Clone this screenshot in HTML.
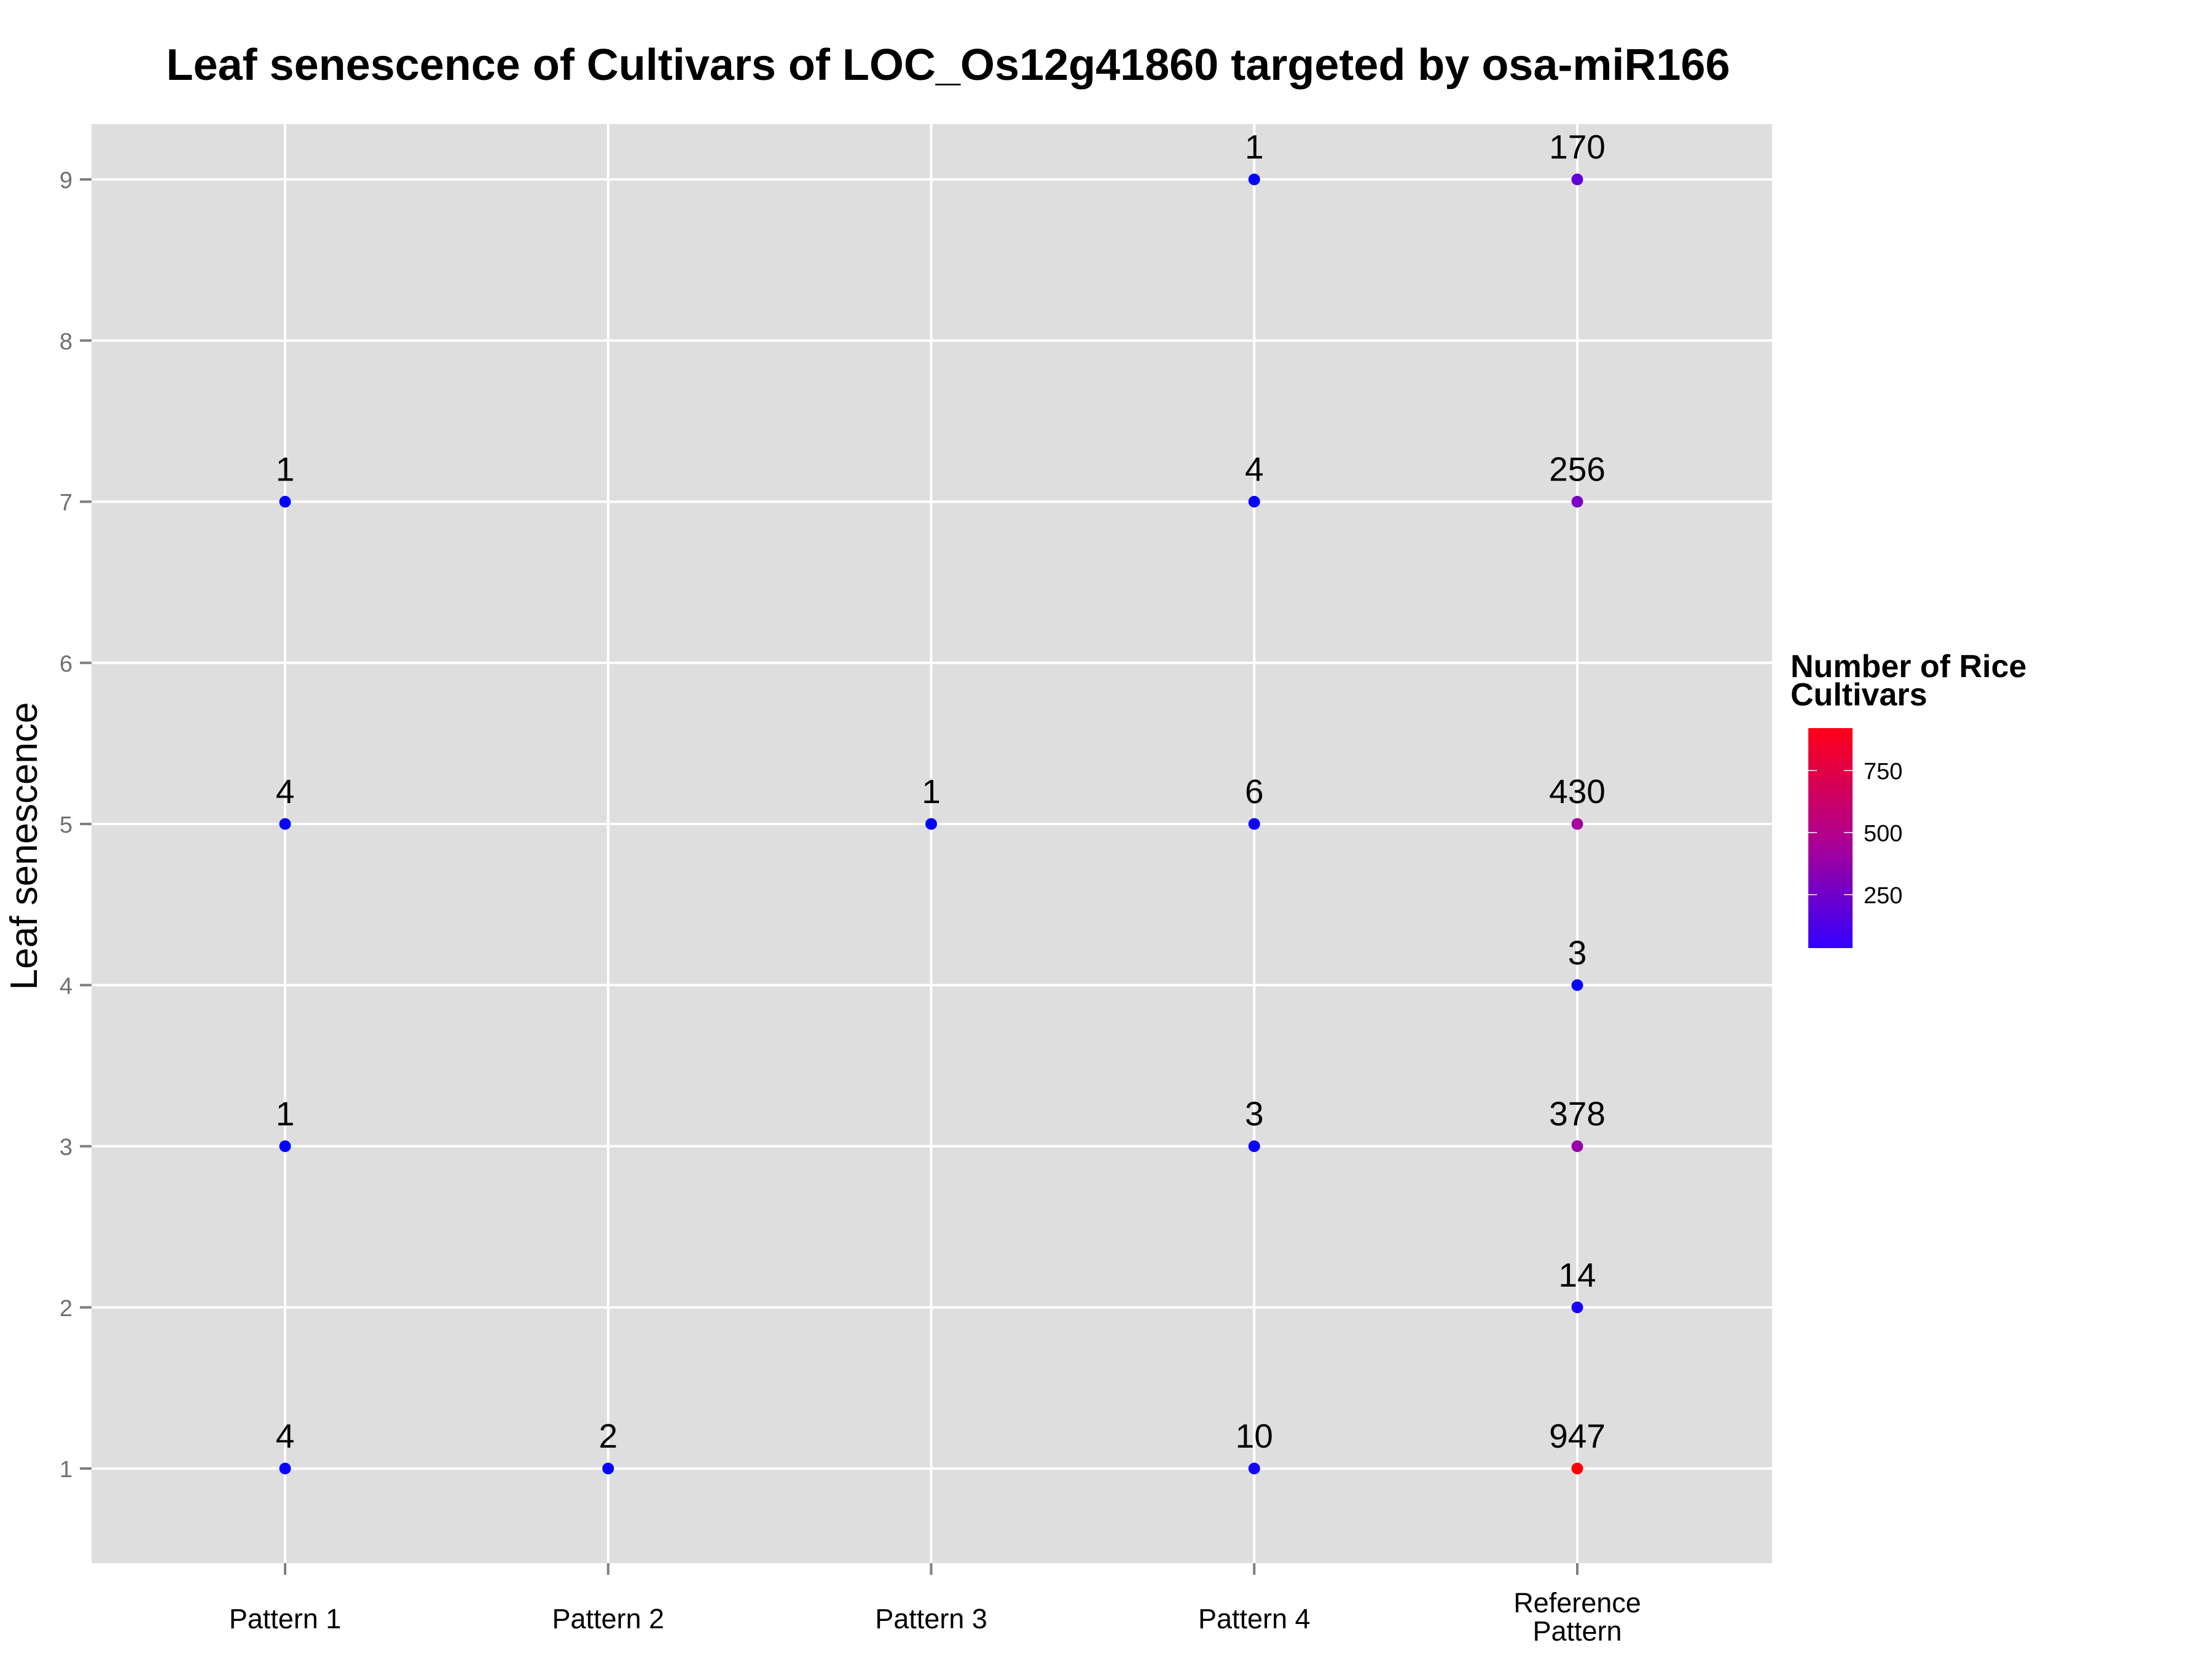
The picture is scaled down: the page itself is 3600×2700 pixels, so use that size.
<!DOCTYPE html>
<html><head><meta charset="utf-8"><style>
html,body{margin:0;padding:0;background:#fff;}
svg{display:block;}
</style></head><body>
<svg id="chart" width="3600" height="2700" xmlns="http://www.w3.org/2000/svg">
<defs><linearGradient id="grad" x1="0" y1="1" x2="0" y2="0">
<stop offset="0" stop-color="#3300ff"/><stop offset="0.5" stop-color="#b0008f"/><stop offset="1" stop-color="#ff0018"/></linearGradient></defs>
<text x="1543" y="130" text-anchor="middle" font-family="Liberation Sans, sans-serif" font-weight="bold" font-size="72">Leaf senescence of Cultivars of LOC_Os12g41860 targeted by osa-miR166</text>
<rect x="149" y="202" width="2735" height="2342" fill="#dedede"/>
<g id="grid"></g>
<g id="axes"></g>
<g id="points"></g>
<text transform="translate(60,1377) rotate(-90)" text-anchor="middle" font-family="Liberation Sans, sans-serif" font-size="62">Leaf senescence</text>
<g>
<text x="2914" y="1102" font-family="Liberation Sans Narrow, Liberation Sans, sans-serif" font-weight="bold" font-size="52">Number of Rice</text>
<text x="2914" y="1148" font-family="Liberation Sans Narrow, Liberation Sans, sans-serif" font-weight="bold" font-size="52">Cultivars</text>
<rect x="2943" y="1185" width="72" height="358" fill="url(#grad)"/>
<g id="legendticks"></g>
</g>
</svg>
<script>
const categories = ["Pattern 1","Pattern 2","Pattern 3","Pattern 4","Reference Pattern"];
const pointCategory = [0,0,0,0,1,2,3,3,3,3,3,4,4,4,4,4,4,4];
const pointScore = [7,5,3,1,1,5,9,7,5,3,1,9,7,5,4,3,2,1];
const pointCount = [1,4,1,4,2,1,1,4,6,3,10,170,256,430,3,378,14,947];
const yTicks = [1,2,3,4,5,6,7,8,9];
const legendTicks = [250,500,750];
const cMin = 1, cMax = 947;

const NS = "http://www.w3.org/2000/svg";
const xPos = i => 464 + i * 525.75;
const yPos = v => 2390 - (v - 1) * 262.25;
const lgY = v => 1456 - (v - 250) * 101 / 250;
function colorOf(v){
  const t = (v - cMin) / (cMax - cMin);
  const r = Math.round(255 * Math.pow(t, 0.55));
  const b = Math.round(255 * Math.pow(1 - t, 0.8));
  return `rgb(${r},0,${b})`;
}
function mk(tag, attrs, parent, text){
  const e = document.createElementNS(NS, tag);
  for (const k in attrs) e.setAttribute(k, attrs[k]);
  if (text !== undefined) e.textContent = text;
  parent.appendChild(e);
  return e;
}
const grid = document.getElementById('grid');
const axes = document.getElementById('axes');
yTicks.forEach(v => {
  const l = mk('line', {x1:149, x2:2884, y1:yPos(v), y2:yPos(v), stroke:'#fff', 'stroke-width':4}, grid);
  
  
  const t = mk('line', {x1:130, x2:149, y1:yPos(v), y2:yPos(v), stroke:'#7f7f7f', 'stroke-width':4}, axes);
  
  
  const tx = mk('text', {x:118, y:yPos(v)+14, 'text-anchor':'end', 'font-family':'Liberation Sans, sans-serif', 'font-size':38, fill:'#6f6f6f'}, axes, String(v));
  
  
});
categories.forEach((c, i) => {
  const l = mk('line', {x1:xPos(i), x2:xPos(i), y1:202, y2:2544, stroke:'#fff', 'stroke-width':4}, grid);
  
  
  const t = mk('line', {x1:xPos(i), x2:xPos(i), y1:2544, y2:2563, stroke:'#7f7f7f', 'stroke-width':4}, axes);
  
  
  const words = c === "Reference Pattern" ? ["Reference","Pattern"] : [c];
  const y0 = words.length > 1 ? 2624 : 2650;
  words.forEach((w, k) => {
    const tx = mk('text', {x:xPos(i), y:y0 + k*46, 'text-anchor':'middle', 'font-family':'Liberation Sans, sans-serif', 'font-size':45, fill:'#000'}, axes, w);
    
    
  });
});
const pts = document.getElementById('points');
pointCount.forEach((n, i) => {
  const cx = xPos(pointCategory[i]), cy = yPos(pointScore[i]);
  const c = mk('circle', {cx:cx, cy:cy, r:9.5, fill:colorOf(n)}, pts);
  
  
  const t = mk('text', {x:cx, y:cy-34, 'text-anchor':'middle', 'font-family':'Liberation Sans, sans-serif', 'font-size':55, fill:'#000'}, pts, String(n));
  
  
});
const lt = document.getElementById('legendticks');
legendTicks.forEach(v => {
  const y = lgY(v);
  const a = mk('line', {x1:2943, x2:2957, y1:y, y2:y, stroke:'#fff', 'stroke-width':1.5}, lt);
  
  
  const b = mk('line', {x1:3001, x2:3015, y1:y, y2:y, stroke:'#fff', 'stroke-width':1.5}, lt);
  
  
  const t = mk('text', {x:3033, y:y+14, 'font-family':'Liberation Sans, sans-serif', 'font-size':38, fill:'#000'}, lt, String(v));
  
  
});
</script>
</body></html>
